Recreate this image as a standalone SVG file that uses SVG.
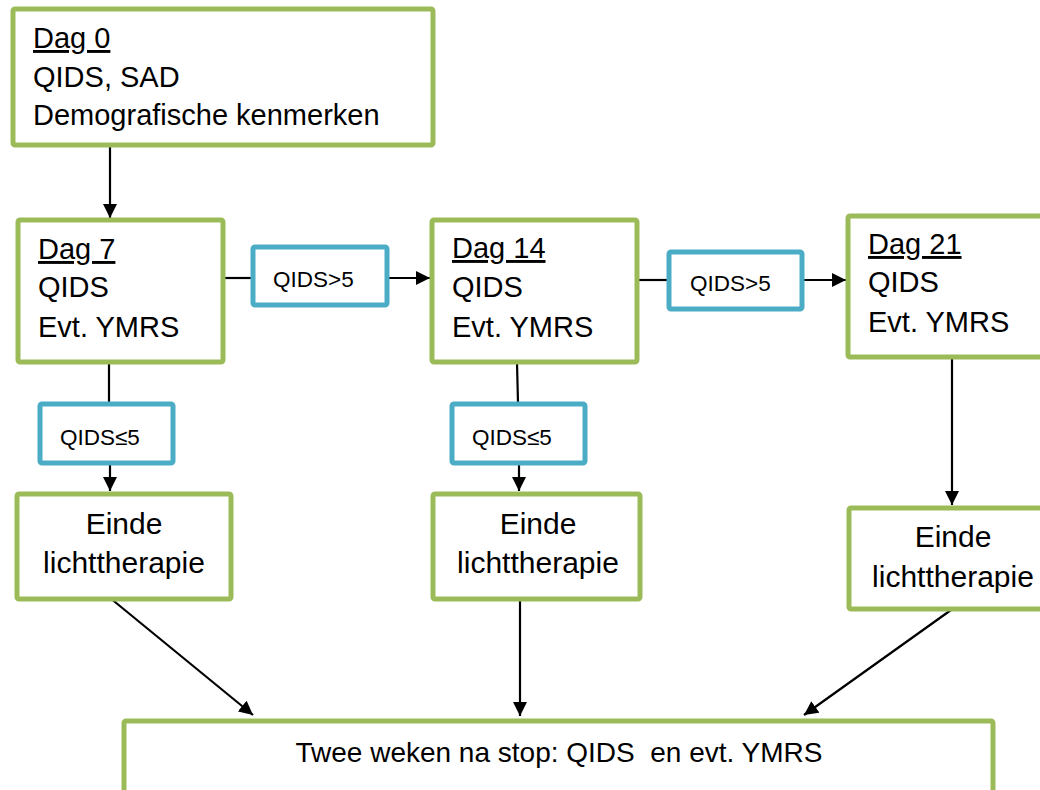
<svg xmlns="http://www.w3.org/2000/svg" width="1040" height="790" viewBox="0 0 1040 790">
<style>
.g{fill:#fff;stroke:#9BBB59;stroke-width:5;stroke-linejoin:round}
.b{fill:#fff;stroke:#4BACC6;stroke-width:5;stroke-linejoin:round}
.t{font-family:"Liberation Sans",Arial,sans-serif;font-size:29px;fill:#000}
.e{font-family:"Liberation Sans",Arial,sans-serif;font-size:30px;fill:#000}
.s{font-family:"Liberation Sans",Arial,sans-serif;font-size:22.5px;fill:#000}
.f{font-family:"Liberation Sans",Arial,sans-serif;font-size:28px;fill:#000}
.u{text-decoration:underline}
.c{stroke:#000;stroke-width:2.2;fill:none}
</style>
<defs>
<marker id="ah" markerUnits="userSpaceOnUse" markerWidth="16" markerHeight="14" refX="14" refY="7" orient="auto">
<path d="M0,0 L14,7 L0,14 Z" fill="#000"/>
</marker>
</defs>
<rect width="1040" height="790" fill="#fff"/>
<g id="connectors">
<line class="c" x1="110" y1="146" x2="110" y2="218" marker-end="url(#ah)"/>
<line class="c" x1="224" y1="278" x2="253" y2="278"/>
<line class="c" x1="388" y1="278" x2="430" y2="278" marker-end="url(#ah)"/>
<line class="c" x1="638" y1="280" x2="669" y2="280"/>
<line class="c" x1="803" y1="280" x2="846" y2="280" marker-end="url(#ah)"/>
<line class="c" x1="109" y1="363" x2="109" y2="403"/>
<line class="c" x1="110" y1="464" x2="110" y2="491" marker-end="url(#ah)"/>
<line class="c" x1="517" y1="363" x2="518" y2="403"/>
<line class="c" x1="519" y1="464" x2="519" y2="491" marker-end="url(#ah)"/>
<line class="c" x1="952" y1="358" x2="952" y2="505" marker-end="url(#ah)"/>
<line class="c" x1="104" y1="593" x2="253" y2="715" marker-end="url(#ah)"/>
<line class="c" x1="520" y1="600" x2="520" y2="716" marker-end="url(#ah)"/>
<line class="c" x1="951" y1="610" x2="804" y2="715" marker-end="url(#ah)"/>
</g>
<g id="dag0">
<rect class="g" x="13" y="9" width="420" height="136" rx="2"/>
<text class="t u" x="33" y="48">Dag 0</text>
<text class="t" x="33" y="87">QIDS, SAD</text>
<text class="t" x="33" y="125">Demografische kenmerken</text>
</g>
<g id="dag7">
<rect class="g" x="18" y="220" width="205" height="142" rx="2"/>
<text class="t u" x="38" y="259">Dag 7</text>
<text class="t" x="38" y="297">QIDS</text>
<text class="t" x="38" y="337">Evt. YMRS</text>
</g>
<g id="cond1">
<rect class="b" x="253" y="247" width="134" height="58" rx="2"/>
<text class="s" x="273" y="287">QIDS&gt;5</text>
</g>
<g id="dag14">
<rect class="g" x="432" y="220" width="205" height="142" rx="2"/>
<text class="t u" x="452" y="258">Dag 14</text>
<text class="t" x="452" y="297">QIDS</text>
<text class="t" x="452" y="337">Evt. YMRS</text>
</g>
<g id="cond2">
<rect class="b" x="669" y="252" width="133" height="57" rx="2"/>
<text class="s" x="690" y="291">QIDS&gt;5</text>
</g>
<g id="dag21">
<rect class="g" x="848" y="216" width="200" height="141" rx="2"/>
<text class="t u" x="868" y="254">Dag 21</text>
<text class="t" x="868" y="292">QIDS</text>
<text class="t" x="868" y="332">Evt. YMRS</text>
</g>
<g id="cond3">
<rect class="b" x="40" y="404" width="133" height="59" rx="2"/>
<text class="s" x="60" y="445">QIDS≤5</text>
</g>
<g id="cond4">
<rect class="b" x="452" y="404" width="133" height="59" rx="2"/>
<text class="s" x="472" y="445">QIDS≤5</text>
</g>
<g id="einde1">
<rect class="g" x="17" y="494" width="214" height="105" rx="2"/>
<text class="e" x="124" y="534" text-anchor="middle">Einde</text>
<text class="e" x="124" y="573" text-anchor="middle">lichttherapie</text>
</g>
<g id="einde2">
<rect class="g" x="433" y="494" width="207" height="105" rx="2"/>
<text class="e" x="538" y="534" text-anchor="middle">Einde</text>
<text class="e" x="538" y="573" text-anchor="middle">lichttherapie</text>
</g>
<g id="einde3">
<rect class="g" x="849" y="508" width="200" height="101" rx="2"/>
<text class="e" x="953" y="547" text-anchor="middle">Einde</text>
<text class="e" x="953" y="587" text-anchor="middle">lichttherapie</text>
</g>
<g id="followup">
<rect class="g" x="124" y="721" width="869" height="100" rx="2"/>
<text class="f" x="559" y="762" text-anchor="middle" xml:space="preserve">Twee weken na stop: QIDS  en evt. YMRS</text>
</g>
</svg>
